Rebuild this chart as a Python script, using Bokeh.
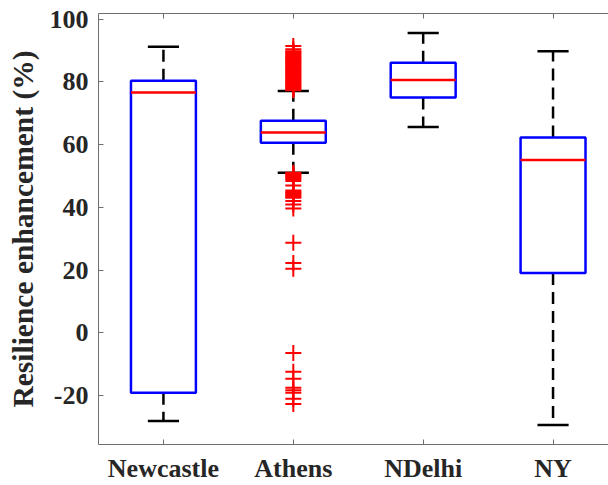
from bokeh.plotting import figure
from bokeh.models import FixedTicker, LinearAxis, Range1d, CustomLabelingPolicy
from bokeh.embed import file_html
from bokeh.resources import INLINE

# ---- data ----
cities = ["Newcastle", "Athens", "NDelhi", "NY"]
positions = [1, 2, 3, 4]
q1 = [-19.1, 60.6, 75.0, 19.1]
median = [76.6, 63.9, 80.6, 55.1]
q3 = [80.4, 67.6, 86.1, 62.3]
whisker_low = [-28.1, 51.0, 65.6, -29.4]
whisker_high = [91.2, 77.1, 95.6, 89.8]
athens_outliers = [
    91.4, 90.4, 89.8, 89.5, 89.1, 88.8, 88.4, 88.1, 87.7, 87.4, 87.0, 86.7,
    86.3, 86.0, 85.6, 85.3, 84.9, 84.6, 84.2, 83.9, 83.5, 83.2, 82.8, 82.5,
    82.1, 81.8, 81.4, 81.1, 80.7, 80.4, 80.0, 79.7, 79.3, 79.0, 78.6, 78.3,
    77.9, 77.6, 77.3,
    51.0, 50.6, 50.2, 49.8, 49.4, 49.0, 48.4, 47.0, 45.4, 45.0, 44.6, 44.2,
    43.8, 43.4, 43.1, 42.0, 40.9, 39.6,
    28.7, 22.3, 20.4,
    -6.4, -12.4, -14.6, -17.5, -18.3, -19.1, -21.0, -22.7,
]
athens_position = 2
y_ticks = [-20, 0, 20, 40, 60, 80, 100]
y_tick_labels = ["-20", "0", "20", "40", "60", "80", "100"]
y_min, y_max = -35.6, 101.8
x_min, x_max = 0.5, 4.427

FONT = "Liberation Serif"
TEXT = "#262626"
AXIS = "#6e6e6e"
BOX_HALF = 0.25
CAP_HALF = 0.12

p = figure(width=608, height=485, x_range=Range1d(x_min, x_max),
           y_range=Range1d(y_min, y_max), output_backend="svg",
           toolbar_location=None, min_border_left=98, min_border_top=13,
           min_border_right=0, min_border_bottom=40)
p.outline_line_color = None
p.grid.visible = False
p.background_fill_color = "white"
p.border_fill_color = "white"

# whiskers (dashed)
p.segment(x0=positions, x1=positions, y0=q3, y1=whisker_high,
          line_color="black", line_width=2.5, line_dash="12 7")
p.segment(x0=positions, x1=positions, y0=q1, y1=whisker_low,
          line_color="black", line_width=2.5, line_dash="12 7")
# caps
p.segment(x0=[x - CAP_HALF for x in positions], x1=[x + CAP_HALF for x in positions],
          y0=whisker_high, y1=whisker_high, line_color="black", line_width=2.5)
p.segment(x0=[x - CAP_HALF for x in positions], x1=[x + CAP_HALF for x in positions],
          y0=whisker_low, y1=whisker_low, line_color="black", line_width=2.5)
# boxes
p.quad(left=[x - BOX_HALF for x in positions], right=[x + BOX_HALF for x in positions],
       bottom=q1, top=q3, fill_color="white", line_color="#0000ff", line_width=2.5)
# medians
p.segment(x0=[x - BOX_HALF for x in positions], x1=[x + BOX_HALF for x in positions],
          y0=median, y1=median, line_color="#ff0000", line_width=2.5)
# outliers
p.scatter(x=[athens_position] * len(athens_outliers), y=athens_outliers,
          marker="cross", size=16, line_color="#ff0000", line_width=2)

# axes
xa = p.xaxis[0]
xa.ticker = FixedTicker(ticks=positions)
xa.major_label_overrides = {pos: name for pos, name in zip(positions, cities)}
xa.major_label_standoff = 9
ya = p.yaxis[0]
ya.ticker = FixedTicker(ticks=y_ticks)
ya.major_label_overrides = {t: s for t, s in zip(y_ticks, y_tick_labels)}
ya.axis_label = "Resilience enhancement (%)"
ya.axis_label_text_font = FONT
ya.axis_label_text_font_style = "bold"
ya.axis_label_text_font_size = "29.5px"
ya.axis_label_text_color = TEXT
ya.axis_label_standoff = 8
ya.major_label_standoff = 10

for ax in (xa, ya):
    ax.major_tick_in = 5
    ax.major_tick_out = 0
    ax.minor_tick_line_color = None
    ax.axis_line_color = AXIS
    ax.major_tick_line_color = AXIS
    ax.major_label_text_font = FONT
    ax.major_label_text_font_style = "bold"
    ax.major_label_text_font_size = "26px"
    ax.major_label_text_color = TEXT

top = LinearAxis(ticker=FixedTicker(ticks=positions), major_label_text_font_size="1px",
                 major_label_policy=CustomLabelingPolicy(code="return []"),
                 major_label_standoff=0, major_tick_in=5, major_tick_out=0,
                 minor_tick_line_color=None, axis_line_color=AXIS,
                 major_tick_line_color=AXIS)
p.add_layout(top, "above")

open("out.html", "w").write(file_html(p, INLINE))
